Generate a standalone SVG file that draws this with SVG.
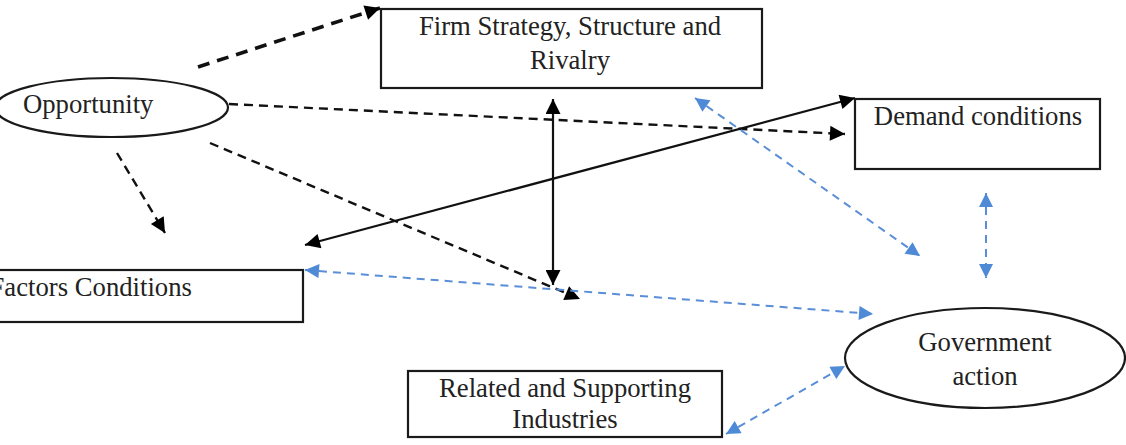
<svg xmlns="http://www.w3.org/2000/svg" width="1126" height="445" viewBox="0 0 1126 445">
<defs>
<style>
.box{fill:#fff;stroke:#1a1a1a;stroke-width:2.2}
.lbl{font-family:"Liberation Serif","Times New Roman",serif;font-size:26.7px;fill:#222}
.blk{stroke:#111;stroke-width:2.2;fill:none}
.dsh{stroke:#111;stroke-width:2.4;fill:none;stroke-dasharray:9 6}
.blue{stroke:#5a8fd8;stroke-width:2;fill:none;stroke-dasharray:8 6}
</style>
<marker id="ah" viewBox="0 0 10 10" refX="10" refY="5" markerWidth="19" markerHeight="15" markerUnits="userSpaceOnUse" orient="auto-start-reverse"><path d="M0,0 L10,5 L0,10 z" fill="#000"/></marker>
<marker id="bh" viewBox="0 0 10 10" refX="10" refY="5" markerWidth="17" markerHeight="14" markerUnits="userSpaceOnUse" orient="auto-start-reverse"><path d="M0,0 L10,5 L0,10 z" fill="#4f8ad6"/></marker>
</defs>
<rect width="1126" height="445" fill="#fff"/>
<g id="connectors">
<line x1="198" y1="67" x2="380" y2="8" stroke="#111" stroke-width="3.6" stroke-dasharray="12 8" marker-end="url(#ah)"/>
<line class="dsh" x1="229" y1="104" x2="845" y2="134" marker-end="url(#ah)"/>
<line class="dsh" x1="117" y1="153" x2="165" y2="233" marker-end="url(#ah)"/>
<line class="dsh" x1="210" y1="143" x2="580" y2="299" marker-end="url(#ah)"/>
<line class="blk" x1="305" y1="245" x2="855" y2="98" marker-start="url(#ah)" marker-end="url(#ah)"/>
<line class="blk" x1="553" y1="99" x2="553" y2="285" marker-start="url(#ah)" marker-end="url(#ah)"/>
<line class="blue" x1="305" y1="270" x2="873" y2="314" marker-start="url(#bh)" marker-end="url(#bh)"/>
<line class="blue" x1="695" y1="98" x2="920" y2="256" marker-start="url(#bh)" marker-end="url(#bh)"/>
<line class="blue" x1="986" y1="193" x2="986" y2="278" marker-start="url(#bh)" marker-end="url(#bh)"/>
<line class="blue" x1="726" y1="434" x2="845" y2="366" marker-start="url(#bh)" marker-end="url(#bh)"/>
</g>
<g id="firm">
<rect class="box" x="381" y="9" width="381" height="79"/>
<text class="lbl" x="570" y="35" text-anchor="middle">Firm Strategy, Structure and</text>
<text class="lbl" x="570" y="69" text-anchor="middle">Rivalry</text>
</g>
<g id="opportunity">
<ellipse class="box" cx="111.5" cy="107.5" rx="116.5" ry="29.5"/>
<text class="lbl" x="23" y="113">Opportunity</text>
</g>
<g id="demand">
<rect class="box" x="855" y="99" width="245" height="70"/>
<text class="lbl" x="978" y="125" text-anchor="middle">Demand conditions</text>
</g>
<g id="factors">
<rect class="box" x="-5" y="270" width="308" height="52"/>
<text class="lbl" x="-10.5" y="296">Factors Conditions</text>
</g>
<g id="related">
<rect class="box" x="408" y="371" width="314" height="66"/>
<text class="lbl" x="565" y="397" text-anchor="middle">Related and Supporting</text>
<text class="lbl" x="565" y="428" text-anchor="middle">Industries</text>
</g>
<g id="government">
<ellipse class="box" cx="985" cy="358" rx="140" ry="50"/>
<text class="lbl" x="985" y="351" text-anchor="middle">Government</text>
<text class="lbl" x="985" y="385" text-anchor="middle">action</text>
</g>
</svg>
